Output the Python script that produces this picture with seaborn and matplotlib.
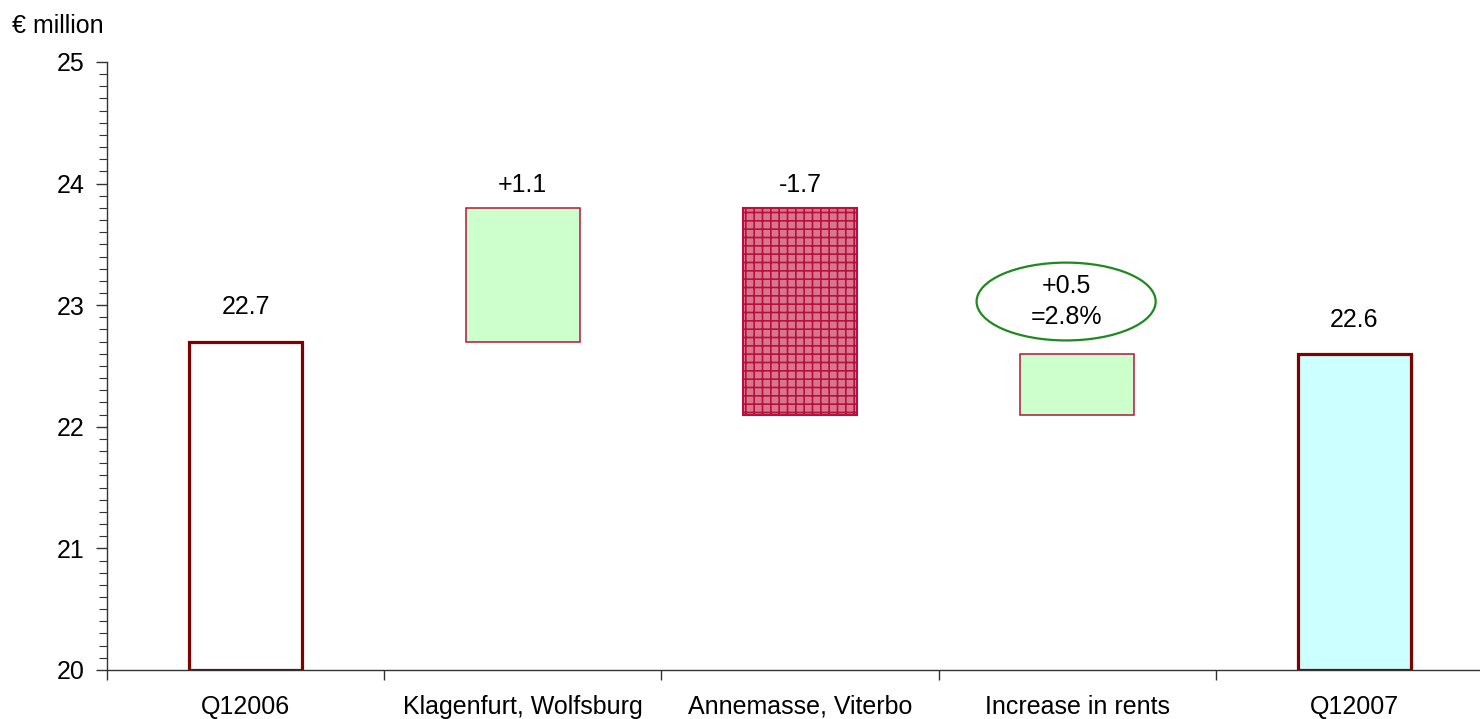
import matplotlib
matplotlib.use("Agg")
import matplotlib.pyplot as plt
from matplotlib.patches import Ellipse
from matplotlib.ticker import MultipleLocator
import pandas as pd
import seaborn as sns

# Rental income bridge, € million
categories = ["Q12006", "Klagenfurt, Wolfsburg", "Annemasse, Viterbo", "Increase in rents", "Q12007"]
bar_bottoms = [20.0, 22.7, 22.1, 22.1, 20.0]
bar_tops = [22.7, 23.8, 23.8, 22.6, 22.6]
value_labels = ["22.7", "+1.1", "-1.7", "+0.5\n=2.8%", "22.6"]
y_label = "€ million"

sns.set_theme(style="white")
plt.rcParams["font.family"] = ["Liberation Sans", "DejaVu Sans"]
plt.rcParams["hatch.linewidth"] = 1.2

FS = 18

df = pd.DataFrame({
    "category": categories,
    "height": [t - b for t, b in zip(bar_tops, bar_bottoms)],
})

fig = plt.figure(figsize=(14.8, 7.19), dpi=100)
ax = fig.add_axes([0.0723, 0.0682, 0.9365, 0.8456])

sns.barplot(data=df, x="category", y="height", order=categories,
            bottom=bar_bottoms, width=0.41, saturation=1,
            color="white", ax=ax)

styles = [
    dict(facecolor="white", edgecolor="#800000", linewidth=2.3, hatch=None),
    dict(facecolor="#CCFFCC", edgecolor="#B3163F", linewidth=1.1, hatch=None),
    dict(facecolor="#D8758F", edgecolor="#B8103C", linewidth=1.5, hatch="++"),
    dict(facecolor="#CCFFCC", edgecolor="#B3163F", linewidth=1.1, hatch=None),
    dict(facecolor="#CCFFFF", edgecolor="#800000", linewidth=2.3, hatch=None),
]
for patch, st in zip(ax.patches, styles):
    patch.set_facecolor(st["facecolor"])
    patch.set_edgecolor(st["edgecolor"])
    patch.set_linewidth(st["linewidth"])
    if st["hatch"]:
        patch.set_hatch(st["hatch"])

# value labels above each bar
offsets = [16, 8, 8, 0, 16]
for i, (top, lab, off) in enumerate(zip(bar_tops, value_labels, offsets)):
    if i == 3:
        continue
    ax.annotate(lab, (i, top), xytext=(0, off), textcoords="offset points",
                ha="center", va="bottom", fontsize=FS, color="black")

# circled label for the rent increase
ax.add_patch(Ellipse((2.96, 23.03), 0.646, 0.64, facecolor="none",
                     edgecolor="#1E8A1E", linewidth=1.6))
ax.text(2.96, 23.03, value_labels[3], ha="center", va="center",
        fontsize=FS, color="black", linespacing=1.35)

ax.set_xlim(-0.5, 4.5)
ax.set_ylim(20, 25)
ax.set_xlabel("")
ax.set_ylabel("")

ax.yaxis.set_major_locator(MultipleLocator(1))
ax.yaxis.set_minor_locator(MultipleLocator(0.1))
ax.tick_params(axis="y", which="major", direction="out", length=8, width=1,
               color="#333333", labelsize=FS, labelcolor="black", pad=8, left=True)
ax.tick_params(axis="y", which="minor", direction="out", length=6, width=0.8,
               color="#333333", left=True)

ax.set_xticks([0, 1, 2, 3, 4])
ax.set_xticklabels(categories)
ax.set_xticks([-0.5, 0.5, 1.5, 2.5, 3.5, 4.5], minor=True)
ax.tick_params(axis="x", which="major", length=0, labelsize=FS,
               labelcolor="black", pad=18)
ax.tick_params(axis="x", which="minor", direction="out", length=7, width=1,
               color="#333333", bottom=True)

for side in ["top", "right"]:
    ax.spines[side].set_visible(False)
for side in ["left", "bottom"]:
    ax.spines[side].set_color("#333333")
    ax.spines[side].set_linewidth(1)

fig.text(12 / 1480, 1 - 26 / 719, y_label, ha="left", va="center",
         fontsize=FS, color="black")

fig.savefig("out.png", dpi=100)
